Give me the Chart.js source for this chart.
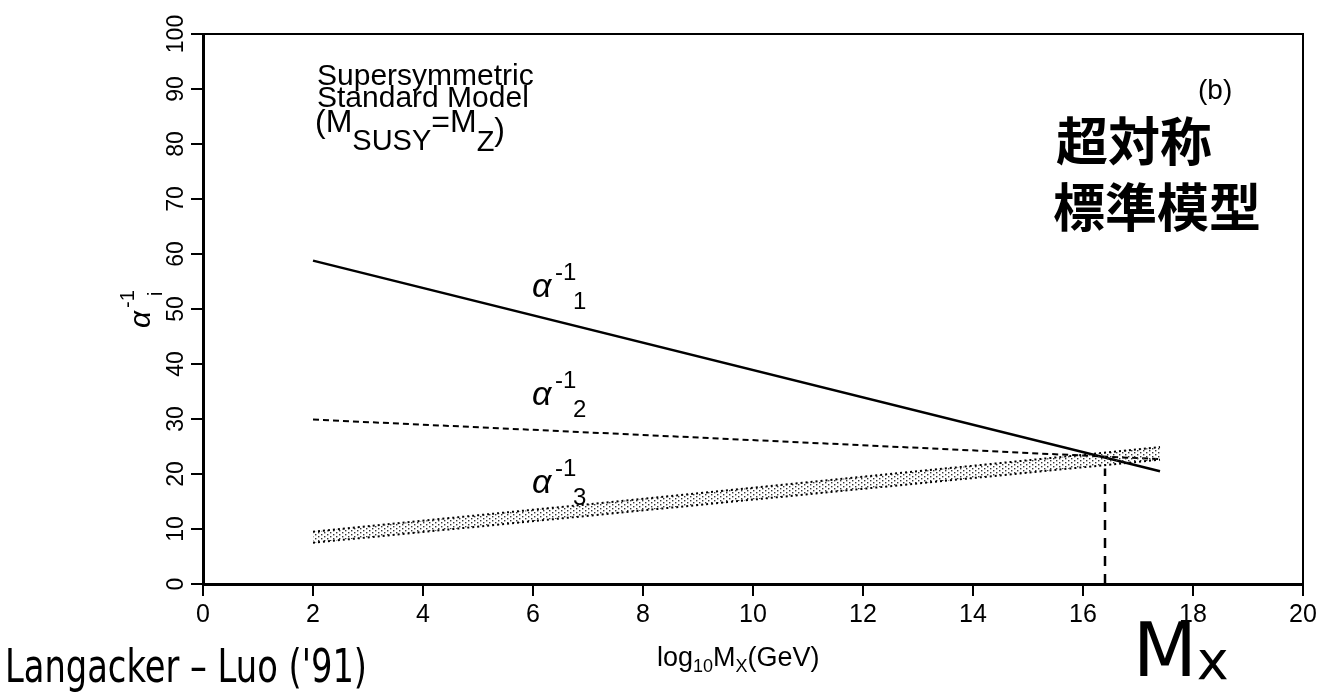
<!DOCTYPE html>
<html>
<head>
<meta charset="utf-8">
<title>Supersymmetric Standard Model - coupling unification</title>
<script src="https://cdn.jsdelivr.net/npm/chart.js@4.4.1/dist/chart.umd.min.js"></script>
<style>
  html, body { margin: 0; padding: 0; background: #fff; }
  #wrap { width: 1323px; height: 697px; }
</style>
</head>
<body>
<div id="wrap"><canvas id="myChart"></canvas></div>
<script>
// log10(M_X / GeV) at both ends of the running lines
var logM = [2, 17.4];
// inverse gauge couplings
var alpha1Inv = [58.8, 20.5];
var alpha2Inv = [29.9, 22.7];
var alpha3InvHigh = [9.5, 24.9];
var alpha3InvLow = [7.5, 22.6];
// dashed marker at the unification scale
var mxX = [16.4, 16.4];
var mxY = [0, 21];

var xTicks = [0, 2, 4, 6, 8, 10, 12, 14, 16, 18, 20];
var yTicks = [0, 10, 20, 30, 40, 50, 60, 70, 80, 90, 100];

var FONT = '"Liberation Sans", Arial, Helvetica, sans-serif';

function pts(xs, ys) {
  return xs.map(function (x, i) { return { x: x, y: ys[i] }; });
}

function stipple() {
  var c = document.createElement("canvas");
  c.width = 6;
  c.height = 4;
  var g = c.getContext("2d");
  g.fillStyle = "#333";
  g.fillRect(0, 0, 1.4, 1.4);
  g.fillRect(3, 2, 1.4, 1.4);
  return g.createPattern(c, "repeat");
}

// draw text made of pieces, each with its own size and baseline shift
function pieces(ctx, x, y, parts) {
  parts.forEach(function (p) {
    ctx.font = (p.st || "normal") + " " + p.s + "px " + (p.f || FONT);
    ctx.fillText(p.t, x, y + (p.dy || 0));
    x += ctx.measureText(p.t).width + (p.gap || 0);
  });
}

var decorations = {
  id: "decorations",
  afterDraw: function (chart) {
    var ctx = chart.ctx;
    var a = chart.chartArea;
    var ys = chart.scales.y;
    ctx.save();
    ctx.fillStyle = "#000";
    ctx.strokeStyle = "#000";

    // top and right frame
    ctx.lineWidth = 2;
    ctx.beginPath();
    ctx.moveTo(a.left, a.top);
    ctx.lineTo(a.right, a.top);
    ctx.lineTo(a.right, a.bottom);
    ctx.stroke();

    // y tick labels, turned on their side
    ctx.textAlign = "center";
    ctx.textBaseline = "middle";
    ctx.font = "23px " + FONT;
    yTicks.forEach(function (v) {
      ctx.save();
      ctx.translate(177, ys.getPixelForValue(v));
      ctx.rotate(-Math.PI / 2);
      ctx.fillText(String(v), 0, 0);
      ctx.restore();
    });

    // y axis title  alpha_i^-1
    ctx.save();
    ctx.translate(142, 318);
    ctx.rotate(-Math.PI / 2);
    ctx.textAlign = "left";
    ctx.textBaseline = "alphabetic";
    ctx.font = "italic 30px " + FONT;
    ctx.fillText("\u03b1", -10, 8);
    ctx.font = "20px " + FONT;
    ctx.fillText("-1", 10, -8);
    ctx.fillText("i", 22, 20);
    ctx.restore();

    ctx.textAlign = "left";
    ctx.textBaseline = "alphabetic";

    // x axis title
    pieces(ctx, 657, 666, [
      { t: "log", s: 27 },
      { t: "10", s: 18, dy: 6 },
      { t: "M", s: 27 },
      { t: "X", s: 18, dy: 6 },
      { t: "(GeV)", s: 27 }
    ]);

    // model box text
    ctx.font = "30px " + FONT;
    ctx.fillText("Supersymmetric", 317, 85);
    ctx.fillText("Standard Model", 317, 107);
    pieces(ctx, 315, 132, [
      { t: "(M", s: 32 },
      { t: "SUSY", s: 29, dy: 18 },
      { t: "=M", s: 32 },
      { t: "Z", s: 29, dy: 19 },
      { t: ")", s: 32, dy: 8 }
    ]);

    // curve labels
    [["1", 289], ["2", 397], ["3", 485]].forEach(function (l) {
      pieces(ctx, 532, l[1] + 8, [{ t: "\u03b1", s: 34, st: "italic" }]);
      pieces(ctx, 555, l[1] - 9, [{ t: "-1", s: 24 }]);
      pieces(ctx, 573, l[1] + 20, [{ t: l[0], s: 24 }]);
    });

    // panel tag and handwritten notes
    ctx.font = "28px " + FONT;
    ctx.fillText("(b)", 1198, 99);
    ctx.font = 'bold 52px "Noto Sans CJK JP"';
    ctx.fillText("\u8d85\u5bfe\u79f0", 1056, 161);
    ctx.fillText("\u6a19\u6e96\u6a21\u578b", 1053, 227, 210);
    ctx.font = '46px "DejaVu Sans", sans-serif';
    ctx.fillText("Langacker \u2013 Luo ('91)", 5, 682, 362);
    pieces(ctx, 1133, 676, [
      { t: "M", s: 74, f: '"DejaVu Sans", sans-serif' },
      { t: "x", s: 54, f: '"DejaVu Sans", sans-serif', dy: 3 }
    ]);
    ctx.restore();
  }
};

var ctx = document.getElementById("myChart").getContext("2d");
var chart = new Chart(ctx, {
  type: "scatter",
  data: {
    datasets: [
      {
        label: "alpha3 low",
        data: pts(logM, alpha3InvLow),
        showLine: true,
        borderColor: "#000",
        borderWidth: 2,
        borderDash: [2, 3],
        pointRadius: 0,
        fill: false
      },
      {
        label: "alpha3 high",
        data: pts(logM, alpha3InvHigh),
        showLine: true,
        borderColor: "#000",
        borderWidth: 2,
        borderDash: [2, 3],
        pointRadius: 0,
        backgroundColor: stipple(),
        fill: "-1"
      },
      {
        label: "alpha1",
        data: pts(logM, alpha1Inv),
        showLine: true,
        borderColor: "#000",
        borderWidth: 2.5,
        pointRadius: 0
      },
      {
        label: "alpha2",
        data: pts(logM, alpha2Inv),
        showLine: true,
        borderColor: "#000",
        borderWidth: 2,
        borderDash: [6, 4],
        pointRadius: 0
      },
      {
        label: "M_X",
        data: pts(mxX, mxY),
        showLine: true,
        borderColor: "#000",
        borderWidth: 2.5,
        borderDash: [10, 8],
        pointRadius: 0
      }
    ]
  },
  options: {
    responsive: true,
    maintainAspectRatio: false,
    animation: false,
    layout: { padding: { left: 0, top: 34, right: 20, bottom: 0 } },
    plugins: {
      legend: { display: false },
      tooltip: { enabled: false }
    },
    scales: {
      x: {
        type: "linear",
        min: 0,
        max: 20,
        afterBuildTicks: function (s) {
          s.ticks = xTicks.map(function (v) { return { value: v }; });
        },
        afterFit: function (s) { s.height = 113; },
        ticks: {
          color: "#000",
          font: { family: FONT, size: 25 },
          padding: 4,
          maxRotation: 0
        },
        grid: {
          drawOnChartArea: false,
          drawTicks: true,
          tickLength: 12,
          lineWidth: 2,
          color: "#000"
        },
        border: { display: true, width: 3, color: "#000" }
      },
      y: {
        type: "linear",
        min: 0,
        max: 100,
        afterBuildTicks: function (s) {
          s.ticks = yTicks.map(function (v) { return { value: v }; });
        },
        afterFit: function (s) { s.width = 203; },
        ticks: { display: false },
        grid: {
          drawOnChartArea: false,
          drawTicks: true,
          tickLength: 12,
          lineWidth: 2,
          color: "#000"
        },
        border: { display: true, width: 3, color: "#000" }
      }
    }
  },
  plugins: [decorations]
});
</script>
</body>
</html>
